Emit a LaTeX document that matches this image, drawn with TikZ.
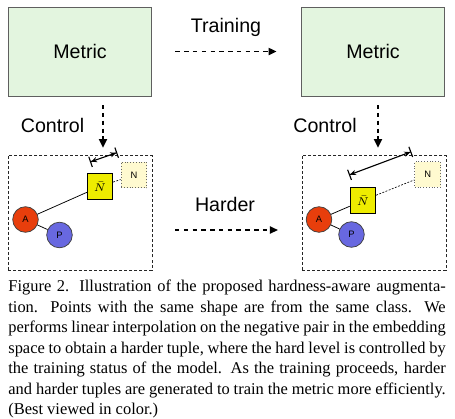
\documentclass[tikz,border=0pt]{standalone}
\usepackage{fontspec}
\setmainfont{Liberation Serif}
\setsansfont{Liberation Sans}
\usetikzlibrary{arrows.meta, positioning}
\newlength{\pxunit}
\setlength{\pxunit}{0.535pt}
\definecolor{metricgreen}{RGB}{227,245,223}
\definecolor{metricgray}{RGB}{95,95,95}
\definecolor{anchorred}{RGB}{232,62,12}
\definecolor{posblue}{RGB}{104,104,224}
\definecolor{negyellow}{RGB}{255,250,208}
\definecolor{synthyellow}{RGB}{238,236,0}
\tikzstyle{metric} = [
	rectangle,
	minimum width=77pt,
	minimum height=47.6pt,
	draw=metricgray,
	line width=0.5pt,
	fill=metricgreen,
	font=\sffamily\fontsize{10.5}{12}\selectfont
]
\tikzstyle{tuple} = [
	rectangle,
	minimum width=77pt,
	minimum height=61.5pt,
	draw=black!85,
	line width=0.45pt,
	dash pattern=on 1.6pt off 1.1pt
]
\tikzstyle{point} = [
	circle,
	minimum size=13.7pt,
	inner sep=0pt,
	draw=black!75,
	line width=0.4pt,
	font=\sffamily\fontsize{5}{6}\selectfont
]
\tikzstyle{anchorpt} = [point, fill=anchorred]
\tikzstyle{positivept} = [point, fill=posblue]
\tikzstyle{negativept} = [
	rectangle,
	minimum size=13.8pt,
	inner sep=0pt,
	draw=black!60,
	densely dotted,
	line width=0.5pt,
	fill=negyellow,
	font=\sffamily\fontsize{5}{6}\selectfont
]
\tikzstyle{synthpt} = [
	rectangle,
	minimum size=13.6pt,
	inner sep=0pt,
	draw=black,
	line width=0.5pt,
	fill=synthyellow,
	font=\fontsize{6}{7}\selectfont
]
\tikzstyle{sidetext} = [anchor=base, inner sep=0pt, font=\sffamily\fontsize{10.5}{12}\selectfont]
\tikzstyle{flowarrow} = [line width=1pt, dash pattern=on 2.4pt off 2.3pt, -{Triangle[length=4.3pt,width=3.8pt]}]
\tikzstyle{controlarrow} = [line width=1.2pt, dash pattern=on 2.3pt off 1.9pt, -{Triangle[length=4.8pt,width=4.2pt]}]
\tikzstyle{hardness} = [line width=0.6pt, {Bar[width=5.8pt]Stealth[length=3.2pt,width=2.8pt]}-{Stealth[length=3.2pt,width=2.8pt]Bar[width=5.8pt]}]
\tikzstyle{link} = [line width=0.4pt]
\tikzstyle{linkdash} = [line width=0.35pt, dash pattern=on 1pt off 0.8pt]
\begin{document}
\begin{tikzpicture}[x=\pxunit, y=-\pxunit]

		\useasboundingbox (0,0) rectangle (455,418);

		\node (metricL) [metric] at (80,51.5) {Metric};
		\node (metricR) [metric] at (373,51.5) {Metric};
		\node (tupleL) [tuple] at (80,212.5) {};
		\node (tupleR) [tuple] at (374,212.5) {};

		\node (training) [sidetext] at (226,32) {Training};
		\node (harder) [sidetext] at (225,211) {Harder};
		\node (controlL) [sidetext] at (52.5,132) {Control};
		\node (controlR) [sidetext] at (325,132) {Control};

		% easy tuple
		\node (anchorL) [anchorpt] at (25.5,219.5) {A};
		\node (posL) [positivept] at (59.5,235) {P};
		\node (negL) [negativept] at (134,175) {N};
		\node (synthL) [synthpt] at (100,186.5) {$\bar{N}$};

		\draw [link] (anchorL) -- (synthL);
		\draw [link] (anchorL) -- (posL);
		\draw [linkdash] (synthL) -- (negL);

		% harder tuple
		\node (anchorR) [anchorpt] at (319,219.5) {A};
		\node (posR) [positivept] at (351.5,234.5) {P};
		\node (negR) [negativept] at (427.7,174.5) {N};
		\node (synthR) [synthpt] at (363,200.5) {$\bar{N}$};

		\draw [link] (anchorR) -- (synthR);
		\draw [link] (anchorR) -- (posR);
		\draw [linkdash] (synthR) -- (negR);

		\coordinate (gapL1) at (90,162);
		\coordinate (gapL2) at (117.2,152.5);
		\coordinate (gapR1) at (349,175);
		\coordinate (gapR2) at (411.3,151.7);
		\draw [hardness] (gapL1) -- (gapL2);
		\draw [hardness] (gapR1) -- (gapR2);

		\draw [flowarrow, shorten <=23\pxunit, shorten >=24\pxunit] (metricL) -- (metricR);
		\coordinate (hardS) at (175,230);
		\coordinate (hardE) at (278,230);
		\draw [flowarrow] (hardS) -- (hardE);

		\coordinate (ctrlL1) at (103,105);
		\coordinate (ctrlL2) at (103,148);
		\coordinate (ctrlR1) at (378,105);
		\coordinate (ctrlR2) at (378,148);
		\draw [controlarrow] (ctrlL1) -- (ctrlL2);
		\draw [controlarrow] (ctrlR1) -- (ctrlR2);

		\node (caption) [anchor=north west, inner sep=0pt, text width=234pt, align=justify, font=\fontsize{8.8}{11}\selectfont] at (8,279.5) {Figure 2. Illustration of the proposed hardness-aware augmenta-\linebreak tion. Points with the same shape are from the same class. We\linebreak performs linear interpolation on the negative pair in the embedding\linebreak space to obtain a harder tuple, where the hard level is controlled by\linebreak the training status of the model. As the training proceeds, harder\linebreak and harder tuples are generated to train the metric more efficiently.\linebreak (Best viewed in color.)};

	\end{tikzpicture}
\end{document}
